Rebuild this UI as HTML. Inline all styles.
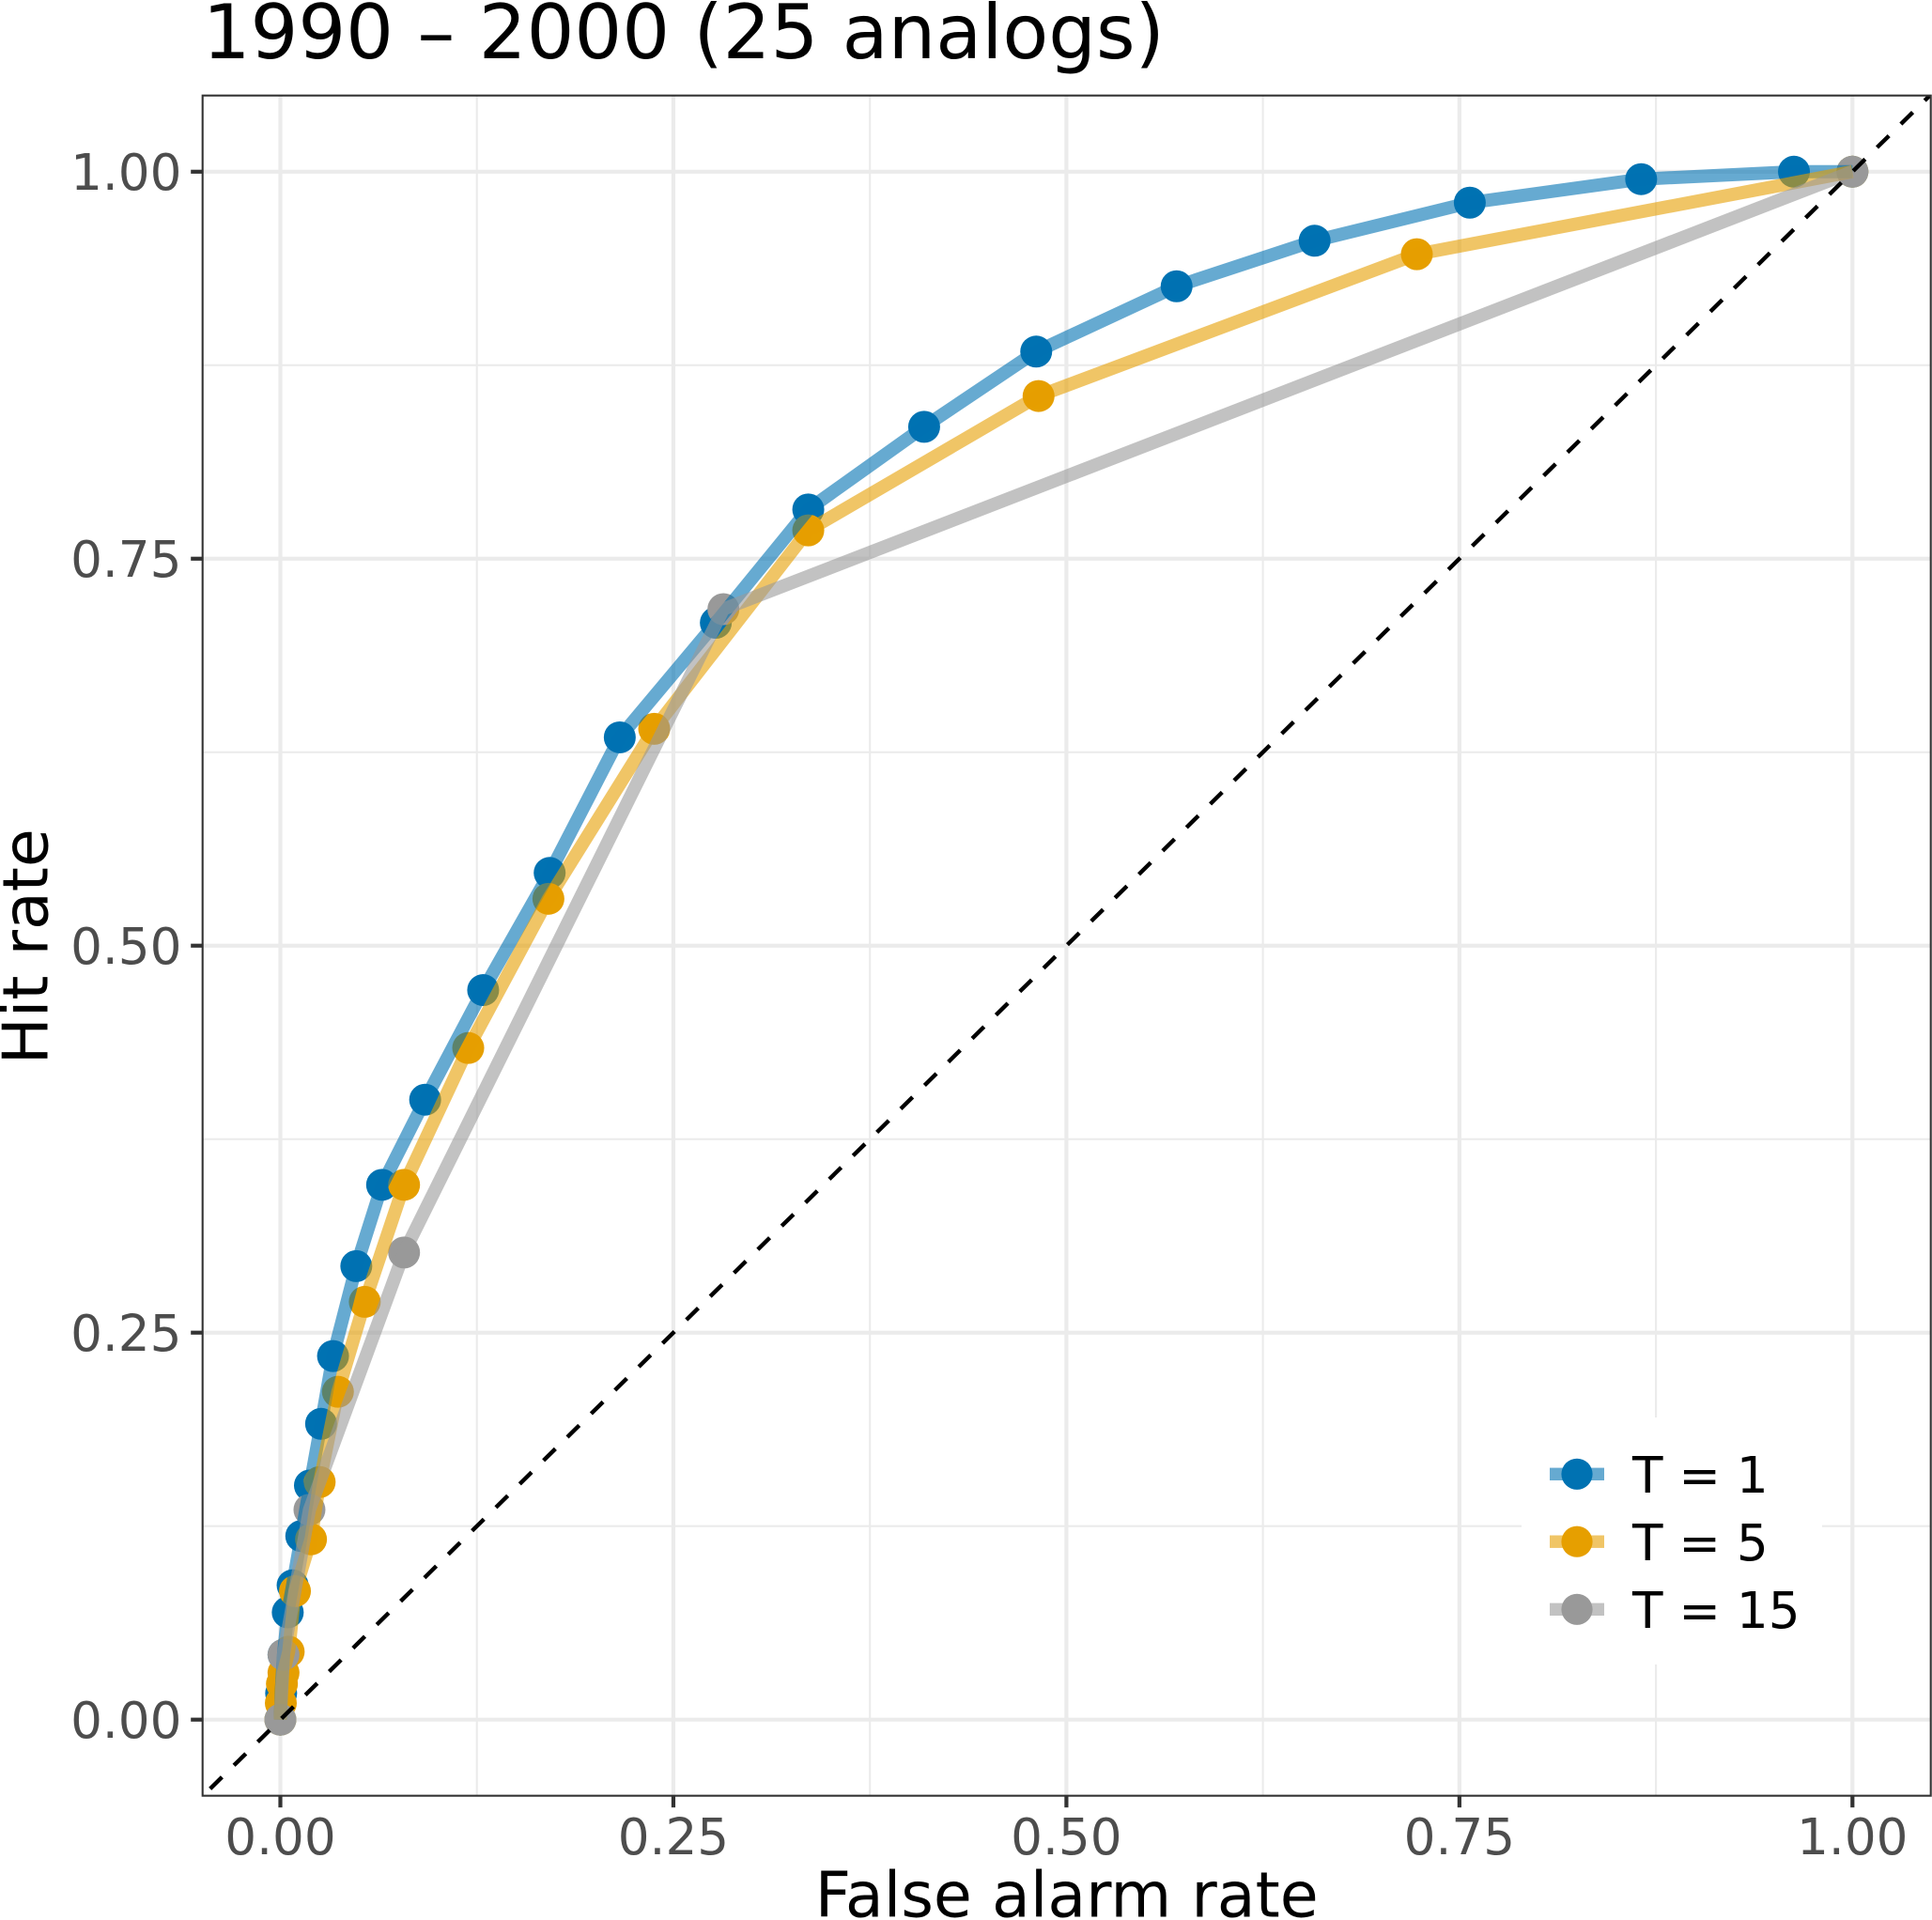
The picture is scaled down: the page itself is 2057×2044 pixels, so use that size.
<!DOCTYPE html>
<html lang="en">
<head>
<meta charset="utf-8">
<title>1990 – 2000 (25 analogs)</title>
<style>
html,body{margin:0;padding:0;background:#fff;}
svg{display:block;font-family:"DejaVu Sans","Liberation Sans",sans-serif;}
</style>
</head>
<body>
<svg id="chart" xmlns="http://www.w3.org/2000/svg" width="2057" height="2044" viewBox="0 0 2057 2044">
  <rect x="0" y="0" width="2057" height="2044" fill="#fff"/>
  <defs><clipPath id="panel-clip"><rect x="215.7" y="101.7" width="1840" height="1810"/></clipPath></defs>
  <text x="215.7" y="62" font-size="79.9" fill="#000">1990 – 2000 (25 analogs)</text>
  <g id="grid-minor"></g>
  <g id="grid-major"></g>
  <g id="points" clip-path="url(#panel-clip)"></g>
  <g id="lines" clip-path="url(#panel-clip)"></g>
  <g id="refline" clip-path="url(#panel-clip)"></g>
  <rect x="215.7" y="101.7" width="1840" height="1810" fill="none" stroke="#333" stroke-width="2.1"/>
  <g id="axes"></g>
  <text x="1135.7" y="2040.5" font-size="66.6" text-anchor="middle" fill="#000">False alarm rate</text>
  <text transform="translate(50.5 1007.7) rotate(-90)" font-size="66.6" text-anchor="middle" fill="#000">Hit rate</text>
  <g>
    <rect x="1620" y="1509" width="320" height="263" fill="#fff"/>
    <g>
      <rect x="1650" y="1562.6" width="58" height="13.4" fill="#0072B2" fill-opacity="0.6"/>
      <circle cx="1679" cy="1569.3" r="16.6" fill="#0072B2"/>
      <text x="1738" y="1589" font-size="53.2" fill="#000">T = 1</text>
    </g>
    <g>
      <rect x="1650" y="1634.5" width="58" height="13.4" fill="#E69F00" fill-opacity="0.6"/>
      <circle cx="1679" cy="1641.2" r="16.6" fill="#E69F00"/>
      <text x="1738" y="1660.9" font-size="53.2" fill="#000">T = 5</text>
    </g>
    <g>
      <rect x="1650" y="1706.6" width="58" height="13.4" fill="#999999" fill-opacity="0.6"/>
      <circle cx="1679" cy="1713.3" r="16.6" fill="#999999"/>
      <text x="1738" y="1733" font-size="53.2" fill="#000">T = 15</text>
    </g>
  </g>
</svg>
<script>
// Chart data
var xTicks = [0, 0.25, 0.5, 0.75, 1];
var yTicks = [0, 0.25, 0.5, 0.75, 1];
var xTickLabels = ["0.00", "0.25", "0.50", "0.75", "1.00"];
var yTickLabels = ["0.00", "0.25", "0.50", "0.75", "1.00"];
var minorBreaks = [0.125, 0.375, 0.625, 0.875];
var seriesNames = ["t1", "t5", "t15"];
var falseAlarmT1 = [0, 0.0005, 0.002, 0.0047, 0.0078, 0.0133, 0.0188, 0.0259, 0.0335, 0.0483, 0.0647, 0.0921, 0.129, 0.1713, 0.2159, 0.277, 0.3358, 0.4095, 0.4808, 0.5701, 0.6579, 0.7566, 0.8656, 0.9628, 1];
var hitRateT1 = [0, 0.017, 0.0419, 0.0693, 0.0868, 0.1186, 0.1513, 0.1911, 0.2349, 0.293, 0.3455, 0.4005, 0.4713, 0.547, 0.6346, 0.7086, 0.7818, 0.8352, 0.8838, 0.926, 0.9554, 0.98, 0.9952, 1, 1];
var falseAlarmT5 = [0, 0.0003, 0.001, 0.002, 0.0053, 0.0093, 0.0195, 0.025, 0.0366, 0.0537, 0.0787, 0.1195, 0.1705, 0.2378, 0.3358, 0.4823, 0.7229, 1];
var hitRateT5 = [0, 0.0107, 0.0231, 0.0302, 0.0439, 0.083, 0.1165, 0.1535, 0.2118, 0.2699, 0.3455, 0.4339, 0.5303, 0.6401, 0.7683, 0.8551, 0.9467, 1];
var falseAlarmT15 = [0, 0.002, 0.0185, 0.0787, 0.2818, 1];
var hitRateT15 = [0, 0.0419, 0.1356, 0.3018, 0.7174, 1];

var SVG_NS = "http://www.w3.org/2000/svg";
var panelLeft = 215.7, panelRight = 2055.7, panelTop = 101.7, panelBottom = 1911.7;
function xScale(v) { return 298.5 + v * 1673.8; }
function yScale(v) { return 1830.7 - v * 1647.9; }
function make(tag, parent) {
  var el = document.createElementNS(SVG_NS, tag);
  parent.appendChild(el);
  return el;
}
function lineEl(parent, x1, y1, x2, y2, color, width) {
  var el = make("line", parent);
  el.setAttribute("x1", x1);
  el.setAttribute("y1", y1);
  el.setAttribute("x2", x2);
  el.setAttribute("y2", y2);
  el.setAttribute("stroke", color);
  el.setAttribute("stroke-width", width);
  return el;
}
var minorG = document.getElementById("grid-minor");
var majorG = document.getElementById("grid-major");
var axesG = document.getElementById("axes");
minorBreaks.forEach(function (b) {
  var v = lineEl(minorG, xScale(b), panelTop, xScale(b), panelBottom, "#EBEBEB", 2.1);
  
  
  var h = lineEl(minorG, panelLeft, yScale(b), panelRight, yScale(b), "#EBEBEB", 2.1);
  
  
});
xTicks.forEach(function (t, i) {
  var g = lineEl(majorG, xScale(t), panelTop, xScale(t), panelBottom, "#EBEBEB", 4.2);
  
  
  var tick = lineEl(axesG, xScale(t), panelBottom, xScale(t), panelBottom + 12.5, "#333", 4.2);
  
  
  var label = make("text", axesG);
  
  
  label.setAttribute("x", xScale(t));
  label.setAttribute("y", 1974);
  label.setAttribute("font-size", "53.2");
  label.setAttribute("text-anchor", "middle");
  label.setAttribute("fill", "#4D4D4D");
  label.textContent = xTickLabels[i];
});
yTicks.forEach(function (t, i) {
  var g = lineEl(majorG, panelLeft, yScale(t), panelRight, yScale(t), "#EBEBEB", 4.2);
  
  
  var tick = lineEl(axesG, panelLeft - 12.5, yScale(t), panelLeft, yScale(t), "#333", 4.2);
  
  
  var label = make("text", axesG);
  
  
  label.setAttribute("x", 193.5);
  label.setAttribute("y", yScale(t) + 19.4);
  label.setAttribute("font-size", "53.2");
  label.setAttribute("text-anchor", "end");
  label.setAttribute("fill", "#4D4D4D");
  label.textContent = yTickLabels[i];
});
var pointsG = document.getElementById("points");
var linesG = document.getElementById("lines");
function drawPoints(far, hit, color, name) {
  far.forEach(function (f, i) {
    var c = make("circle", pointsG);
    
    
    c.setAttribute("cx", xScale(f));
    c.setAttribute("cy", yScale(hit[i]));
    c.setAttribute("r", 17);
    c.setAttribute("fill", color);
  });
}
function drawLine(far, hit, color, name) {
  var p = make("polyline", linesG);
  
  
  p.setAttribute("points", far.map(function (f, i) { return xScale(f) + "," + yScale(hit[i]); }).join(" "));
  p.setAttribute("fill", "none");
  p.setAttribute("stroke", color);
  p.setAttribute("stroke-opacity", "0.6");
  p.setAttribute("stroke-width", 14);
  p.setAttribute("stroke-linejoin", "round");
  p.setAttribute("stroke-linecap", "butt");
}
drawPoints(falseAlarmT1, hitRateT1, "#0072B2", seriesNames[0]);
drawPoints(falseAlarmT5, hitRateT5, "#E69F00", seriesNames[1]);
drawPoints(falseAlarmT15, hitRateT15, "#999999", seriesNames[2]);
drawLine(falseAlarmT1, hitRateT1, "#0072B2", seriesNames[0]);
drawLine(falseAlarmT5, hitRateT5, "#E69F00", seriesNames[1]);
drawLine(falseAlarmT15, hitRateT15, "#999999", seriesNames[2]);
var diag = lineEl(document.getElementById("refline"), xScale(-0.05), yScale(-0.05), xScale(1.05), yScale(1.05), "#000", 4.4);


diag.setAttribute("stroke-dasharray", "17.79 17.79");
diag.setAttribute("stroke-dashoffset", "-12.5");
</script>
</body>
</html>
